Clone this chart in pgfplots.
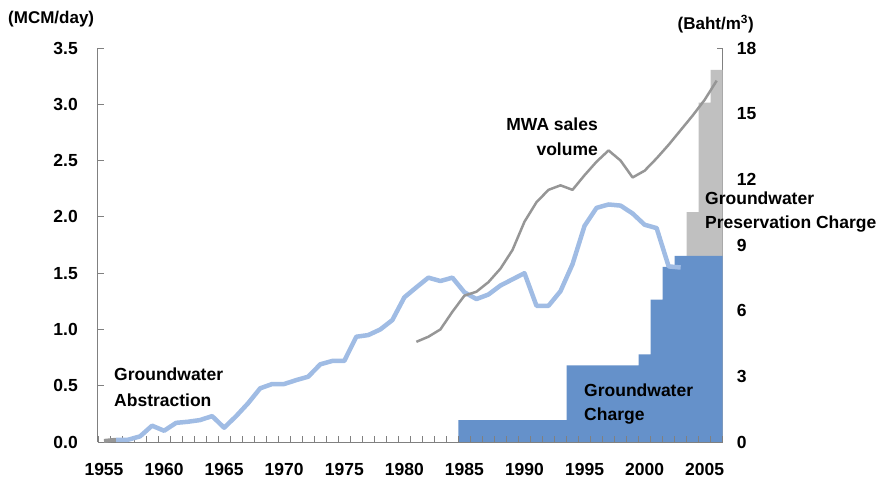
\documentclass[border=0pt]{standalone}
\usepackage{pgfplots}
\pgfplotsset{compat=1.18}
\usepackage{fontspec}
\setmainfont{Liberation Sans}

\definecolor{chargeblue}{RGB}{101,145,202}
\definecolor{presgray}{RGB}{192,192,192}
\definecolor{gwblue}{RGB}{160,188,228}
\definecolor{mwagray}{RGB}{150,150,150}
\definecolor{axgray}{RGB}{128,128,128}

\newcommand{\lblfont}{\fontsize{17.5}{21}\selectfont\bfseries}
\newcommand{\unitfont}{\fontsize{17}{20}\selectfont\bfseries}

\pgfplotsset{
  base/.style={
    scale only axis, width=624.7pt, height=394pt,
    at={(0pt,0pt)}, anchor=south west,
    xmin=1954.5, xmax=2006.5,
    axis line style={axgray, line width=1pt},
    tick style={axgray, line width=0.8pt},
    tick align=inside,
    major tick length=6pt, minor tick length=6pt,
    tick label style={font=\lblfont, inner sep=0pt},
    /pgf/number format/assume math mode=true,
  }
}

\begin{document}
\begin{tikzpicture}
\path[use as bounding box] (-98pt,-41pt) rectangle (786pt,442pt);

% right axis: charges in Baht/m3
\begin{axis}[base,
  axis x line=none, axis y line*=right,
  ymin=0, ymax=18, ytick={0,3,...,18},
  yticklabel style={anchor=west, xshift=14pt},
]
\addplot[ybar, bar width=1, bar shift=0, fill=presgray, draw=none]
  coordinates {(2004,10.5) (2005,15.5) (2006,17)};
\addplot[ybar, bar width=1, bar shift=0, fill=chargeblue, draw=none]
  coordinates {
  (1985,1) (1986,1) (1987,1) (1988,1) (1989,1) (1990,1) (1991,1) (1992,1) (1993,1)
  (1994,3.5) (1995,3.5) (1996,3.5) (1997,3.5) (1998,3.5) (1999,3.5)
  (2000,4) (2001,6.5) (2002,8) (2003,8.5) (2004,8.5) (2005,8.5) (2006,8.5)
  };
\end{axis}

% left axis: volumes in MCM/day
\begin{axis}[base,
  axis x line*=bottom, axis y line*=left,
  ymin=0, ymax=3.5, ytick={0,0.5,1,1.5,2,2.5,3,3.5},
  yticklabel style={anchor=east, xshift=-20pt,
    /pgf/number format/.cd, fixed, fixed zerofill, precision=1},
  xtick={1955,1960,...,2005},
  xticklabel style={anchor=north, yshift=-21pt, /pgf/number format/1000 sep={}},
  major x tick style={draw=none},
  minor xtick={1954.5,1955.5,...,2006.5},
]
\addplot[mwagray, line width=4pt] coordinates {(1955,0.01) (1956,0.02)};
\addplot[gwblue, line width=4.5pt, line join=round] coordinates {
  (1956,0.02) (1957,0.02) (1958,0.05) (1959,0.145) (1960,0.10) (1961,0.17)
  (1962,0.18) (1963,0.195) (1964,0.23) (1965,0.127) (1966,0.23) (1967,0.345)
  (1968,0.477) (1969,0.515) (1970,0.515) (1971,0.55) (1972,0.58) (1973,0.69)
  (1974,0.72) (1975,0.72) (1976,0.935) (1977,0.95) (1978,1.0) (1979,1.083)
  (1980,1.285) (1981,1.374) (1982,1.46) (1983,1.43) (1984,1.46) (1985,1.33)
  (1986,1.27) (1987,1.31) (1988,1.39) (1989,1.445) (1990,1.50) (1991,1.21)
  (1992,1.21) (1993,1.34) (1994,1.58) (1995,1.92) (1996,2.08) (1997,2.11)
  (1998,2.10) (1999,2.03) (2000,1.93) (2001,1.90) (2002,1.56) (2003,1.55)
};
\addplot[mwagray, line width=2.5pt, line join=round] coordinates {
  (1981,0.89) (1982,0.935) (1983,1.0) (1984,1.157) (1985,1.30) (1986,1.335)
  (1987,1.42) (1988,1.54) (1989,1.705) (1990,1.957) (1991,2.13) (1992,2.24)
  (1993,2.28) (1994,2.24) (1995,2.37) (1996,2.49) (1997,2.59) (1998,2.50)
  (1999,2.35) (2000,2.41) (2001,2.52) (2002,2.64) (2003,2.77) (2004,2.90)
  (2005,3.04) (2006,3.21)
};
\end{axis}

% annotations
\node[anchor=base west, inner sep=0pt, font=\unitfont] at (-90pt,418.5pt) {(MCM/day)};
\node[anchor=base west, inner sep=0pt, font=\unitfont] at (579.5pt,412.5pt) {(Baht/m\textsuperscript{3})};
\node[anchor=base west, inner sep=0pt, font=\lblfont] at (16pt,62pt) {Groundwater};
\node[anchor=base west, inner sep=0pt, font=\lblfont] at (16pt,36pt) {Abstraction};
\node[anchor=base east, inner sep=0pt, font=\lblfont] at (500pt,312pt) {MWA sales};
\node[anchor=base east, inner sep=0pt, font=\lblfont] at (500pt,287pt) {volume};
\node[anchor=base west, inner sep=0pt, font=\lblfont] at (486pt,46pt) {Groundwater};
\node[anchor=base west, inner sep=0pt, font=\lblfont] at (486pt,22pt) {Charge};
\node[anchor=base west, inner sep=0pt, font=\lblfont] at (607pt,238pt) {Groundwater};
\node[anchor=base west, inner sep=0pt, font=\lblfont] at (607pt,214pt) {Preservation Charge};
\end{tikzpicture}
\end{document}
